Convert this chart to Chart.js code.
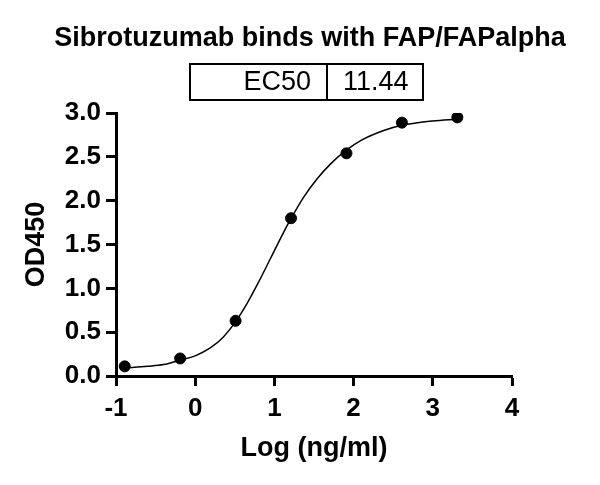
<!DOCTYPE html>
<html>
<head>
<meta charset="utf-8">
<script src="https://cdn.jsdelivr.net/npm/chart.js@4.4.1/dist/chart.umd.min.js"></script>
<style>
  body { margin: 0; background: #fff; }
  #wrap { width: 600px; height: 485px; }
</style>
</head>
<body>
<div id="wrap"><canvas id="chart" width="600" height="485"></canvas></div>
<script>
// puntos medidos (log de concentración, OD450)
const doseLog = [-0.89, -0.19, 0.51, 1.21, 1.91, 2.61, 3.31];
const od450 = [0.11, 0.2, 0.63, 1.8, 2.54, 2.89, 2.95];

// curva ajustada
const curveLog = [-0.89, -0.6, -0.4, -0.19, 0, 0.19, 0.35, 0.51, 0.65, 0.8, 0.95, 1.1, 1.2, 1.37, 1.54, 1.71, 1.9, 2.1, 2.38, 2.61, 3.0, 3.31];
const curveOD = [0.09, 0.11, 0.13, 0.18, 0.23, 0.32, 0.44, 0.62, 0.82, 1.07, 1.34, 1.61, 1.78, 2.04, 2.25, 2.42, 2.57, 2.69, 2.8, 2.86, 2.91, 2.93];

const xTicks = [-1, 0, 1, 2, 3, 4];
const yTicks = [0, 0.5, 1, 1.5, 2, 2.5, 3];

const chartTitle = "Sibrotuzumab binds with FAP/FAPalpha";
const ec50Label = "EC50";
const ec50Value = "11.44";

const fontFam = "'Liberation Sans', Arial, sans-serif";

document.addEventListener("DOMContentLoaded", function () {
  const ctx = document.getElementById("chart").getContext("2d");
  createChart(ctx);
});

// título y tabla EC50 dibujados encima
const headerPlugin = {
  id: "header",
  afterDraw(chart) {
    const c = chart.ctx;
    c.save();
    c.fillStyle = "#000";
    c.textBaseline = "middle";
    c.textAlign = "center";
    c.font = "bold 27px " + fontFam;
    c.fillText(chartTitle, 310, 39);

    // caja
    c.strokeStyle = "#000";
    c.lineWidth = 2;
    c.strokeRect(190, 64, 233, 36);
    c.beginPath();
    c.moveTo(327, 64);
    c.lineTo(327, 100);
    c.stroke();

    c.font = "27px " + fontFam;
    c.textAlign = "right";
    c.fillText(ec50Label, 311, 83);
    c.textAlign = "left";
    c.fillText(ec50Value, 343, 83);
    c.restore();
  },
};

function createChart(ctx) {
  const curvePts = curveLog.map((x, i) => ({ x: x, y: curveOD[i] }));
  const dataPts = doseLog.map((x, i) => ({ x: x, y: od450[i] }));

  new Chart(ctx, {
    type: "scatter",
    data: {
      datasets: [
        {
          label: "fit",
          data: curvePts,
          showLine: true,
          borderColor: "#000",
          borderWidth: 1.5,
          pointRadius: 0,
          cubicInterpolationMode: "monotone",
        },
        {
          label: "OD450",
          data: dataPts,
          showLine: false,
          backgroundColor: "#000",
          borderColor: "#000",
          pointRadius: 5.5,
        },
      ],
    },
    options: {
      responsive: false,
      animation: false,
      layout: {
        padding: { top: 113, right: 88, left: 0, bottom: 0 },
      },
      plugins: {
        legend: { display: false },
        tooltip: { enabled: false },
      },
      scales: {
        x: {
          type: "linear",
          min: -1,
          max: 4,
          afterBuildTicks: (scale) => {
            scale.ticks = xTicks.map((v) => ({ value: v }));
          },
          afterFit: (scale) => {
            scale.height = 109;
          },
          ticks: {
            color: "#000",
            font: { family: fontFam, size: 26, weight: "bold" },
            padding: 7,
            maxRotation: 0,
          },
          grid: {
            drawOnChartArea: false,
            tickLength: 10,
            tickWidth: 3,
            tickColor: "#000",
          },
          border: { display: true, width: 3, color: "#000" },
          title: {
            display: true,
            text: "Log (ng/ml)",
            color: "#000",
            font: { family: fontFam, size: 27, weight: "bold" },
            padding: { top: 4, bottom: 20 },
          },
        },
        y: {
          min: 0,
          max: 3,
          afterBuildTicks: (scale) => {
            scale.ticks = yTicks.map((v) => ({ value: v }));
          },
          afterFit: (scale) => {
            scale.width = 116;
          },
          ticks: {
            color: "#000",
            font: { family: fontFam, size: 26, weight: "bold" },
            padding: 5,
            callback: (v) => Number(v).toFixed(1),
          },
          grid: {
            drawOnChartArea: false,
            tickLength: 10,
            tickWidth: 3,
            tickColor: "#000",
          },
          border: { display: true, width: 3, color: "#000" },
          title: {
            display: true,
            text: "OD450",
            color: "#000",
            font: { family: fontFam, size: 27, weight: "bold" },
            padding: { top: 20 },
          },
        },
      },
    },
    plugins: [headerPlugin],
  });
}
</script>
</body>
</html>
